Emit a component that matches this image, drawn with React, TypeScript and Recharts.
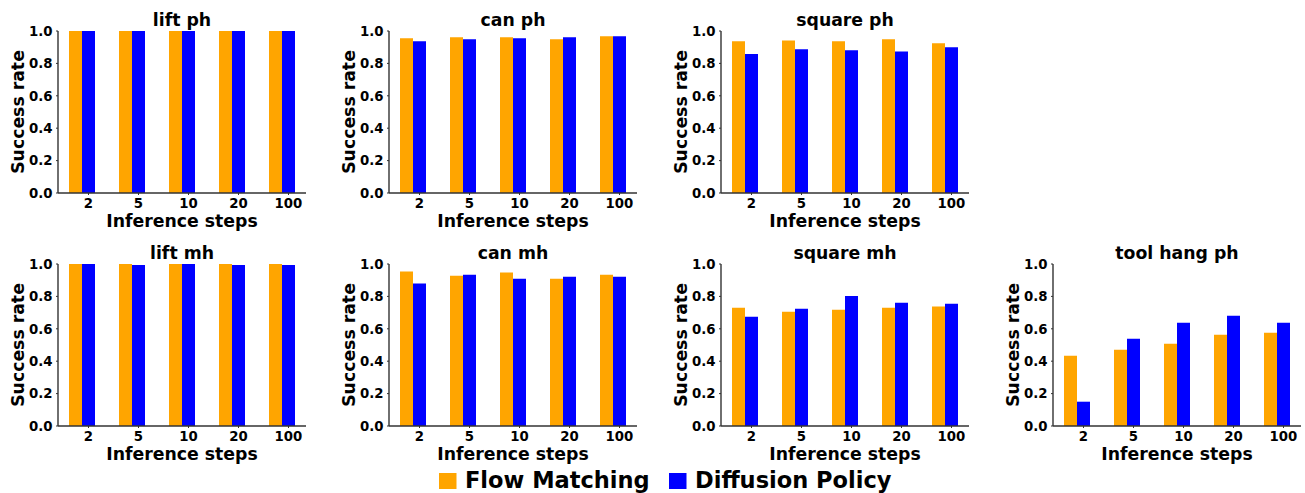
import React from "react";
import { BarChart, Bar, XAxis, YAxis, Label } from "recharts";

// inference step categories and y ticks
const steps = ["2", "5", "10", "20", "100"];
const yTicks = [0, 0.2, 0.4, 0.6, 0.8, 1.0];

// success rates (Flow Matching / Diffusion Policy)
const liftPhFm = [1.0, 1.0, 1.0, 1.0, 1.0];
const liftPhDp = [1.0, 1.0, 1.0, 1.0, 1.0];
const canPhFm = [0.955, 0.961, 0.961, 0.949, 0.967];
const canPhDp = [0.936, 0.949, 0.955, 0.961, 0.967];
const squarePhFm = [0.936, 0.942, 0.936, 0.949, 0.924];
const squarePhDp = [0.858, 0.887, 0.881, 0.874, 0.899];
const liftMhFm = [1.0, 1.0, 1.0, 1.0, 1.0];
const liftMhDp = [1.0, 0.994, 1.0, 0.994, 0.994];
const canMhFm = [0.953, 0.928, 0.947, 0.909, 0.934];
const canMhDp = [0.879, 0.934, 0.909, 0.922, 0.922];
const squareMhFm = [0.73, 0.706, 0.718, 0.73, 0.737];
const squareMhDp = [0.675, 0.724, 0.802, 0.761, 0.755];
const toolHangPhFm = [0.434, 0.471, 0.508, 0.564, 0.576];
const toolHangPhDp = [0.15, 0.539, 0.638, 0.681, 0.638];

const FM_COLOR = "#FFA500";
const DP_COLOR = "#0000FF";
const AXIS = "#333333";
const FONT = "'DejaVu Sans', sans-serif";

const panels = [
  { title: "lift ph", fm: liftPhFm, dp: liftPhDp, col: 0, row: 0 },
  { title: "can ph", fm: canPhFm, dp: canPhDp, col: 1, row: 0 },
  { title: "square ph", fm: squarePhFm, dp: squarePhDp, col: 2, row: 0 },
  { title: "lift mh", fm: liftMhFm, dp: liftMhDp, col: 0, row: 1 },
  { title: "can mh", fm: canMhFm, dp: canMhDp, col: 1, row: 1 },
  { title: "square mh", fm: squareMhFm, dp: squareMhDp, col: 2, row: 1 },
  { title: "tool hang ph", fm: toolHangPhFm, dp: toolHangPhDp, col: 3, row: 1 },
];

const tickStyle = { fontFamily: FONT, fontWeight: 700, fontSize: 13.3, fill: "#000" };
const labelStyle = { fontFamily: FONT, fontWeight: 700, fontSize: 17.3, fill: "#000" };

const colLeft = [0, 331, 663, 995];
const rowTop = [0, 233];
const W = 310;
const H = 235;
const PLOT_LEFT = 58;
const PLOT_TOP = 31;
const PLOT_W = 248;
const PLOT_H = 162;

// ticks sit under the blue bar like in the original
const StepTick = (props: any) => {
  const { x, y, payload } = props;
  const tx = x + 6.5;
  return (
    <g>
      <line x1={tx} x2={tx} y1={y} y2={y + 2} stroke={AXIS} strokeWidth={1} />
      <text x={tx} y={y + 5.5} dy="0.71em" textAnchor="middle" style={tickStyle}>
        {payload.value}
      </text>
    </g>
  );
};

const Panel = ({ title, fm, dp, col, row }: any) => {
  const data = steps.map((s, i) => ({ step: s, fm: fm[i], dp: dp[i] }));
  return (
    <div style={{ position: "absolute", left: colLeft[col], top: rowTop[row], width: W, height: H }}>
      <div
        style={{
          position: "absolute",
          left: PLOT_LEFT,
          width: PLOT_W,
          top: PLOT_TOP - 21,
          lineHeight: "20px",
          textAlign: "center",
          fontFamily: FONT,
          fontWeight: 700,
          fontSize: 17.3,
        }}
      >
        {title}
      </div>
      <BarChart
        width={W}
        height={H}
        data={data}
        barGap={0}
        margin={{ top: PLOT_TOP, right: W - PLOT_LEFT - PLOT_W, bottom: 0, left: 0 }}
      >
        <XAxis
          dataKey="step"
          height={H - PLOT_TOP - PLOT_H}
          tick={<StepTick />}
          tickSize={0}
          tickMargin={0}
          tickLine={false}
          axisLine={{ stroke: AXIS, strokeWidth: 1.4 }}
          padding={{ left: -1, right: -1 }}
          interval={0}
        >
          <Label
            content={(p: any) => {
              const vb = p.viewBox || { x: PLOT_LEFT, y: PLOT_TOP + PLOT_H, width: PLOT_W };
              return (
                <text x={vb.x + vb.width / 2} y={vb.y + 34} textAnchor="middle" style={labelStyle}>
                  Inference steps
                </text>
              );
            }}
          />
        </XAxis>
        <YAxis
          width={PLOT_LEFT}
          domain={[0, 1]}
          ticks={yTicks}
          interval={0}
          tickFormatter={(v: number) => v.toFixed(1)}
          tick={tickStyle}
          tickSize={2}
          tickMargin={3.5}
          tickLine={{ stroke: AXIS, strokeWidth: 1 }}
          axisLine={{ stroke: AXIS, strokeWidth: 1.4 }}
        >
          <Label
            content={(p: any) => {
              const vb = p.viewBox || { y: PLOT_TOP, height: PLOT_H };
              const cy = vb.y + vb.height / 2;
              return (
                <text x={24} y={cy} transform={`rotate(-90 24 ${cy})`} textAnchor="middle" style={labelStyle}>
                  Success rate
                </text>
              );
            }}
          />
        </YAxis>
        <Bar dataKey="fm" name="Flow Matching" fill={FM_COLOR} barSize={13} isAnimationActive={false} />
        <Bar dataKey="dp" name="Diffusion Policy" fill={DP_COLOR} barSize={13} isAnimationActive={false} />
      </BarChart>
    </div>
  );
};

const legendItems = [
  { name: "Flow Matching", color: FM_COLOR, x: 439 },
  { name: "Diffusion Policy", color: DP_COLOR, x: 669 },
];

export default function App() {
  return (
    <div
      style={{
        position: "fixed",
        left: 0,
        top: 0,
        width: 1305,
        height: 493,
        overflow: "hidden",
        background: "#fff",
      }}
    >
      {panels.map((p) => (
        <Panel key={p.title} {...p} />
      ))}
      <svg style={{ position: "absolute", left: 0, top: 460 }} width={1305} height={33}>
        {legendItems.map((it) => (
          <g key={it.name}>
            <rect x={it.x} y={13} width={17.5} height={16} fill={it.color} />
            <text
              x={it.x + 26}
              y={28}
              style={{ fontFamily: FONT, fontWeight: 700, fontSize: 22.5, fill: "#000" }}
            >
              {it.name}
            </text>
          </g>
        ))}
      </svg>
    </div>
  );
}
